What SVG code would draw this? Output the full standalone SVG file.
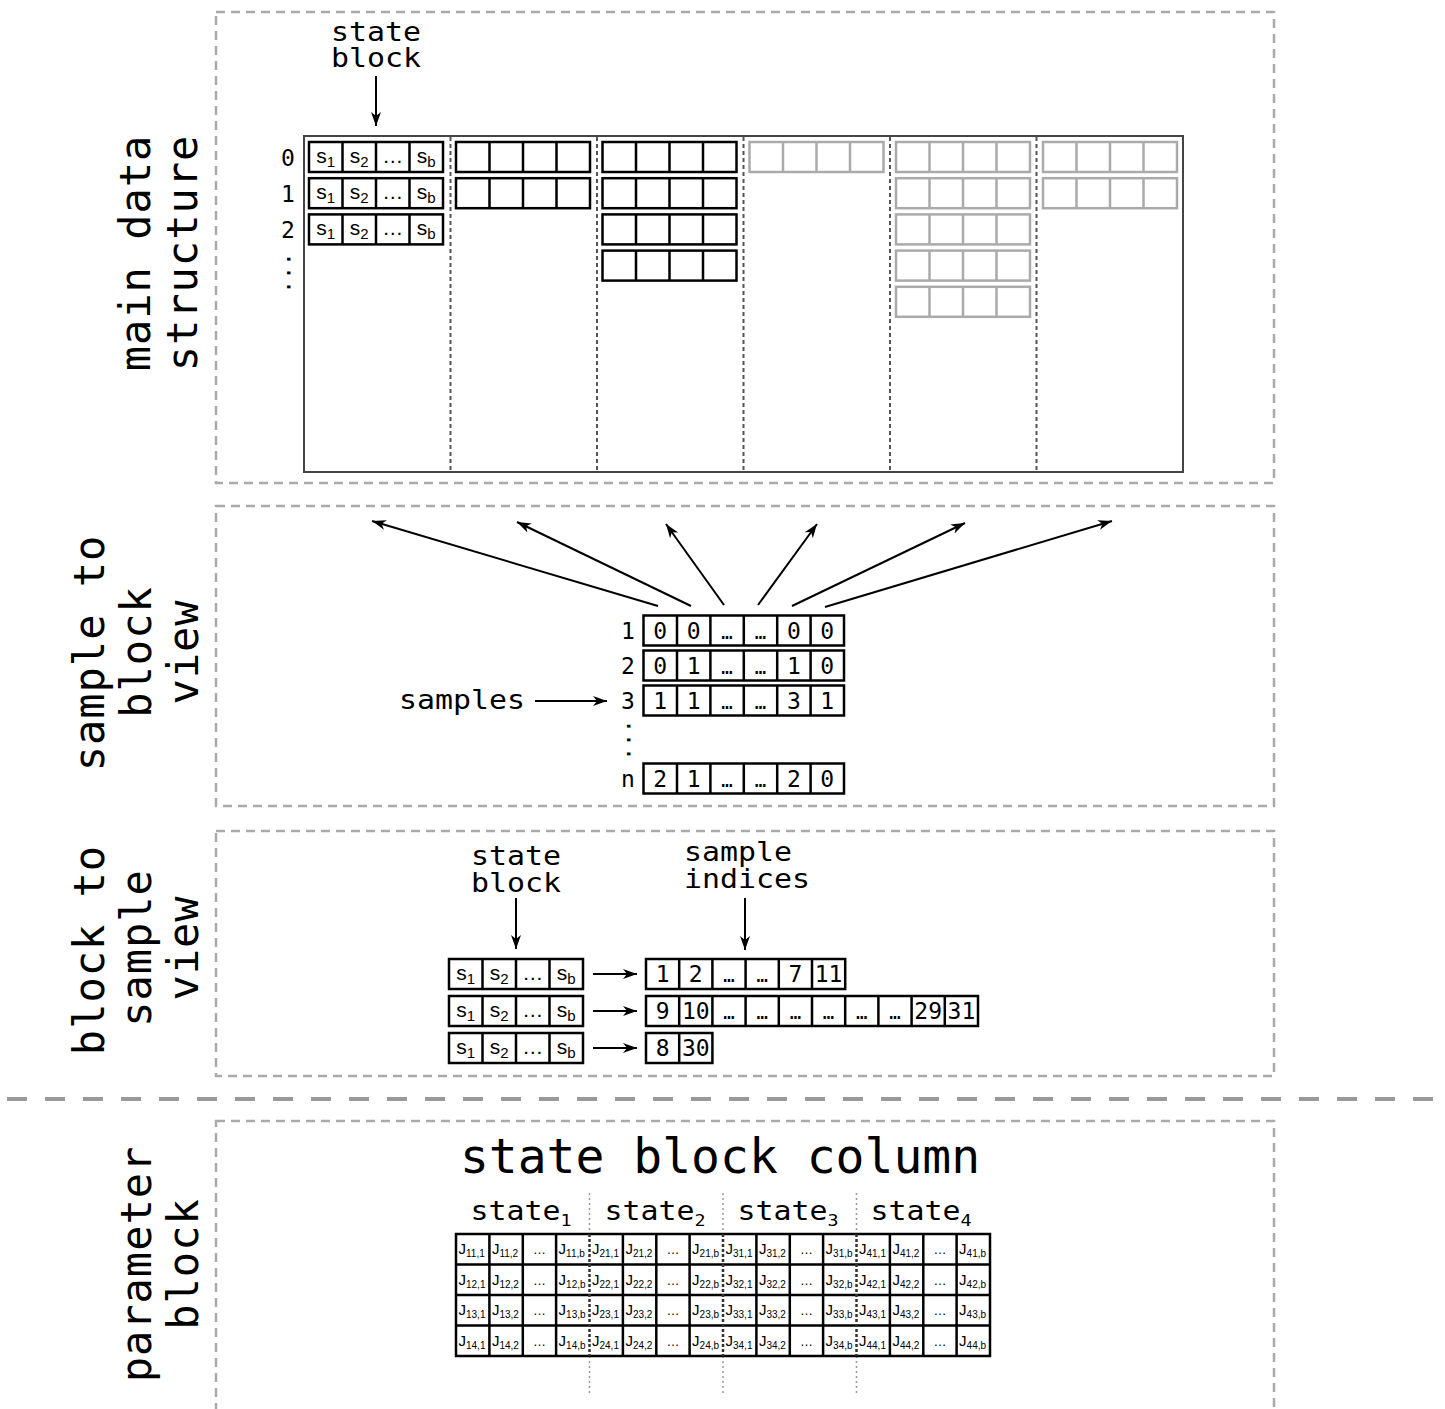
<svg xmlns="http://www.w3.org/2000/svg" xmlns:xlink="http://www.w3.org/1999/xlink" width="1445" height="1409" viewBox="0 0 1445 1409">
<defs>
<style>
.panel{fill:none;stroke:#aaa;stroke-width:2.5;stroke-dasharray:9 6}
.sep{stroke:#999;stroke-width:4;stroke-dasharray:20 18}
.frame{fill:none;stroke:#444;stroke-width:2}
.div{stroke:#555;stroke-width:2;stroke-dasharray:4 3}
.blk{fill:none;stroke:#000;stroke-width:2.5}
.gblk{fill:none;stroke:#aaa;stroke-width:2.5}
.mono{font-family:"DejaVu Sans Mono",monospace;fill:#000}
.lbl{font-size:26px;text-anchor:middle}
.lbs{font-size:26px}
.side{font-size:42px;text-anchor:middle;letter-spacing:1px}
.title{font-size:48px;text-anchor:middle}
.dig{font-size:23px;text-anchor:middle}
.ell{font-size:19px}
.s{font-family:"Liberation Sans",Arial,sans-serif;font-size:21px;text-anchor:middle;fill:#000}
.sub{font-size:15px}
.j{font-family:"Liberation Sans",Arial,sans-serif;font-size:15px;fill:#000}
.jsub{font-size:10px}
.jd{font-family:"Liberation Sans",Arial,sans-serif;font-size:13px;text-anchor:middle;fill:#000}
.arr{stroke:#000;stroke-width:2;fill:none;marker-end:url(#ah)}
.gdot{stroke:#999;stroke-width:1.5;stroke-dasharray:2 3}
.bdot{stroke:#333;stroke-width:2.5;stroke-dasharray:3 2}
</style>
<marker id="ah" markerWidth="16" markerHeight="12" refX="14" refY="6" orient="auto" markerUnits="userSpaceOnUse"><path d="M0,1 L14,6 L0,11 L4,6 Z" fill="#000"/></marker>
<g id="b4"><rect width="134" height="30"/><path d="M33.5,0V30M67,0V30M100.5,0V30"/></g>
</defs>
<rect width="1445" height="1409" fill="#fff"/>

<!-- panels -->
<g id="panels">
<rect class="panel" x="216" y="12" width="1058" height="471"/>
<rect class="panel" x="216" y="506" width="1058" height="300"/>
<rect class="panel" x="216" y="831" width="1058" height="245"/>
<rect class="panel" x="216" y="1121" width="1058" height="310"/>
<line class="sep" x1="7" y1="1099" x2="1445" y2="1099"/>
</g>

<!-- side labels -->
<g id="side-labels" class="mono side">
<text transform="translate(150,253) rotate(-90)">main data</text>
<text transform="translate(197,253) rotate(-90)">structure</text>
<text transform="translate(104,653) rotate(-90)">sample to</text>
<text transform="translate(151,652) rotate(-90)">block</text>
<text transform="translate(198,652) rotate(-90)">view</text>
<text transform="translate(104,950) rotate(-90)">block to</text>
<text transform="translate(151,948) rotate(-90)">sample</text>
<text transform="translate(198,948) rotate(-90)">view</text>
<text transform="translate(151,1264) rotate(-90)">parameter</text>
<text transform="translate(198,1264) rotate(-90)">block</text>
</g>

<!-- main data structure -->
<g id="main-structure">
<rect class="frame" x="304" y="136" width="879" height="336"/>
<path class="div" d="M450.5,137V471M597,137V471M743.5,137V471M890,137V471M1036.5,137V471"/>
<g class="blk">
<use xlink:href="#b4" x="309" y="142"/>
<use xlink:href="#b4" x="309" y="178.2"/>
<use xlink:href="#b4" x="309" y="214.4"/>
<use xlink:href="#b4" x="456" y="142"/>
<use xlink:href="#b4" x="456" y="178.2"/>
<use xlink:href="#b4" x="602.5" y="142"/>
<use xlink:href="#b4" x="602.5" y="178.2"/>
<use xlink:href="#b4" x="602.5" y="214.4"/>
<use xlink:href="#b4" x="602.5" y="250.6"/>
</g>
<g class="gblk">
<use xlink:href="#b4" x="749.5" y="142"/>
<use xlink:href="#b4" x="896" y="142"/>
<use xlink:href="#b4" x="896" y="178.2"/>
<use xlink:href="#b4" x="896" y="214.4"/>
<use xlink:href="#b4" x="896" y="250.6"/>
<use xlink:href="#b4" x="896" y="286.8"/>
<use xlink:href="#b4" x="1043" y="142"/>
<use xlink:href="#b4" x="1043" y="178.2"/>
</g>
<g class="s">
<text x="325.75" y="163">s<tspan class="sub" dy="4">1</tspan></text>
<text x="359.25" y="163">s<tspan class="sub" dy="4">2</tspan></text>
<text x="392.75" y="163">…</text>
<text x="426.25" y="163">s<tspan class="sub" dy="4">b</tspan></text>
<text x="325.75" y="199.2">s<tspan class="sub" dy="4">1</tspan></text>
<text x="359.25" y="199.2">s<tspan class="sub" dy="4">2</tspan></text>
<text x="392.75" y="199.2">…</text>
<text x="426.25" y="199.2">s<tspan class="sub" dy="4">b</tspan></text>
<text x="325.75" y="235.4">s<tspan class="sub" dy="4">1</tspan></text>
<text x="359.25" y="235.4">s<tspan class="sub" dy="4">2</tspan></text>
<text x="392.75" y="235.4">…</text>
<text x="426.25" y="235.4">s<tspan class="sub" dy="4">b</tspan></text>
</g>
<g class="mono dig">
<text x="288" y="166">0</text>
<text x="288" y="202">1</text>
<text x="288" y="238">2</text>
<text transform="translate(286.5,273) rotate(90)">...</text>
</g>
<g class="mono lbl">
<text transform="matrix(1.15 0 0 1 376 41)">state</text>
<text transform="matrix(1.15 0 0 1 376 67)">block</text>
</g>
</g>

<!-- sample to block view -->
<g id="sample-rows">
<g class="blk">
<rect x="643.5" y="615.5" width="200.5" height="30"/>
<path d="M677,615.5v30M710.4,615.5v30M743.8,615.5v30M777.2,615.5v30M810.6,615.5v30"/>
<rect x="643.5" y="650.5" width="200.5" height="30"/>
<path d="M677,650.5v30M710.4,650.5v30M743.8,650.5v30M777.2,650.5v30M810.6,650.5v30"/>
<rect x="643.5" y="685.5" width="200.5" height="30"/>
<path d="M677,685.5v30M710.4,685.5v30M743.8,685.5v30M777.2,685.5v30M810.6,685.5v30"/>
<rect x="643.5" y="763.5" width="200.5" height="30"/>
<path d="M677,763.5v30M710.4,763.5v30M743.8,763.5v30M777.2,763.5v30M810.6,763.5v30"/>
</g>
<g class="mono dig">
<text x="628" y="639">1</text>
<text x="628" y="674">2</text>
<text x="628" y="709">3</text>
<text x="628" y="787">n</text>
<text transform="translate(626.5,740) rotate(90)">...</text>
<text x="660.2" y="639">0</text><text x="693.7" y="639">0</text><text class="ell" x="727.1" y="639">…</text><text class="ell" x="760.5" y="639">…</text><text x="793.9" y="639">0</text><text x="827.3" y="639">0</text>
<text x="660.2" y="674">0</text><text x="693.7" y="674">1</text><text class="ell" x="727.1" y="674">…</text><text class="ell" x="760.5" y="674">…</text><text x="793.9" y="674">1</text><text x="827.3" y="674">0</text>
<text x="660.2" y="709">1</text><text x="693.7" y="709">1</text><text class="ell" x="727.1" y="709">…</text><text class="ell" x="760.5" y="709">…</text><text x="793.9" y="709">3</text><text x="827.3" y="709">1</text>
<text x="660.2" y="787">2</text><text x="693.7" y="787">1</text><text class="ell" x="727.1" y="787">…</text><text class="ell" x="760.5" y="787">…</text><text x="793.9" y="787">2</text><text x="827.3" y="787">0</text>
</g>
<text class="mono lbs" transform="matrix(1.15 0 0 1 399 709)">samples</text>
</g>

<!-- block to sample view -->
<g id="block-rows">
<g class="blk">
<use xlink:href="#b4" x="449" y="959"/>
<use xlink:href="#b4" x="449" y="996"/>
<use xlink:href="#b4" x="449" y="1033"/>
<rect x="646" y="959" width="199.2" height="30"/>
<path d="M679.2,959v30M712.4,959v30M745.6,959v30M778.8,959v30M812,959v30"/>
<rect x="646" y="996" width="332" height="30"/>
<path d="M679.2,996v30M712.4,996v30M745.6,996v30M778.8,996v30M812,996v30M845.2,996v30M878.4,996v30M911.6,996v30M944.8,996v30"/>
<rect x="646" y="1033" width="66.4" height="30"/>
<path d="M679.2,1033v30"/>
</g>
<g class="s">
<text x="465.75" y="980">s<tspan class="sub" dy="4">1</tspan></text>
<text x="499.25" y="980">s<tspan class="sub" dy="4">2</tspan></text>
<text x="532.75" y="980">…</text>
<text x="566.25" y="980">s<tspan class="sub" dy="4">b</tspan></text>
<text x="465.75" y="1017">s<tspan class="sub" dy="4">1</tspan></text>
<text x="499.25" y="1017">s<tspan class="sub" dy="4">2</tspan></text>
<text x="532.75" y="1017">…</text>
<text x="566.25" y="1017">s<tspan class="sub" dy="4">b</tspan></text>
<text x="465.75" y="1054">s<tspan class="sub" dy="4">1</tspan></text>
<text x="499.25" y="1054">s<tspan class="sub" dy="4">2</tspan></text>
<text x="532.75" y="1054">…</text>
<text x="566.25" y="1054">s<tspan class="sub" dy="4">b</tspan></text>
</g>
<g class="mono dig">
<text x="662.6" y="982">1</text><text x="695.8" y="982">2</text><text class="ell" x="729" y="982">…</text><text class="ell" x="762.2" y="982">…</text><text x="795.4" y="982">7</text><text x="828.6" y="982">11</text>
<text x="662.6" y="1019">9</text><text x="695.8" y="1019">10</text><text class="ell" x="729" y="1019">…</text><text class="ell" x="762.2" y="1019">…</text><text class="ell" x="795.4" y="1019">…</text><text class="ell" x="828.6" y="1019">…</text><text class="ell" x="861.8" y="1019">…</text><text class="ell" x="895" y="1019">…</text><text x="928.2" y="1019">29</text><text x="961.4" y="1019">31</text>
<text x="662.6" y="1056">8</text><text x="695.8" y="1056">30</text>
</g>
<g class="mono lbl">
<text transform="matrix(1.15 0 0 1 516 865)">state</text>
<text transform="matrix(1.15 0 0 1 516 892)">block</text>
</g>
<g class="mono lbs">
<text transform="matrix(1.15 0 0 1 684 861)">sample</text>
<text transform="matrix(1.15 0 0 1 684 888)">indices</text>
</g>
</g>

<!-- parameter block -->
<g id="param-block">
<text class="mono title" x="720" y="1173">state block column</text>
<g class="mono lbl">
<text transform="matrix(1.15 0 0 1 521 1220)">state<tspan font-size="16" dy="6">1</tspan></text>
<text transform="matrix(1.15 0 0 1 655 1220)">state<tspan font-size="16" dy="6">2</tspan></text>
<text transform="matrix(1.15 0 0 1 788 1220)">state<tspan font-size="16" dy="6">3</tspan></text>
<text transform="matrix(1.15 0 0 1 921 1220)">state<tspan font-size="16" dy="6">4</tspan></text>
</g>
<path class="gdot" d="M589.5,1193V1234M723,1193V1234M856.5,1193V1234M589.5,1356V1396M723,1356V1396M856.5,1356V1396"/>
<path class="blk" d="M456,1234H990V1356H456ZM456,1264.5H990M456,1295H990M456,1325.5H990M489.4,1234v122M522.8,1234v122M556.1,1234v122M622.9,1234v122M656.3,1234v122M689.6,1234v122M756.4,1234v122M789.8,1234v122M823.1,1234v122M889.9,1234v122M923.3,1234v122M956.6,1234v122"/>
<path class="bdot" d="M589.5,1234V1356M723,1234V1356M856.5,1234V1356"/>
<g class="j">
<text x="458.5" y="1254">J<tspan class="jsub" dy="3">11,1</tspan></text>
<text x="491.9" y="1254">J<tspan class="jsub" dy="3">11,2</tspan></text>
<text x="558.6" y="1254">J<tspan class="jsub" dy="3">11,b</tspan></text>
<text x="592" y="1254">J<tspan class="jsub" dy="3">21,1</tspan></text>
<text x="625.4" y="1254">J<tspan class="jsub" dy="3">21,2</tspan></text>
<text x="692.1" y="1254">J<tspan class="jsub" dy="3">21,b</tspan></text>
<text x="725.5" y="1254">J<tspan class="jsub" dy="3">31,1</tspan></text>
<text x="758.9" y="1254">J<tspan class="jsub" dy="3">31,2</tspan></text>
<text x="825.6" y="1254">J<tspan class="jsub" dy="3">31,b</tspan></text>
<text x="859" y="1254">J<tspan class="jsub" dy="3">41,1</tspan></text>
<text x="892.4" y="1254">J<tspan class="jsub" dy="3">41,2</tspan></text>
<text x="959.1" y="1254">J<tspan class="jsub" dy="3">41,b</tspan></text>

<text x="458.5" y="1284.5">J<tspan class="jsub" dy="3">12,1</tspan></text>
<text x="491.9" y="1284.5">J<tspan class="jsub" dy="3">12,2</tspan></text>
<text x="558.6" y="1284.5">J<tspan class="jsub" dy="3">12,b</tspan></text>
<text x="592" y="1284.5">J<tspan class="jsub" dy="3">22,1</tspan></text>
<text x="625.4" y="1284.5">J<tspan class="jsub" dy="3">22,2</tspan></text>
<text x="692.1" y="1284.5">J<tspan class="jsub" dy="3">22,b</tspan></text>
<text x="725.5" y="1284.5">J<tspan class="jsub" dy="3">32,1</tspan></text>
<text x="758.9" y="1284.5">J<tspan class="jsub" dy="3">32,2</tspan></text>
<text x="825.6" y="1284.5">J<tspan class="jsub" dy="3">32,b</tspan></text>
<text x="859" y="1284.5">J<tspan class="jsub" dy="3">42,1</tspan></text>
<text x="892.4" y="1284.5">J<tspan class="jsub" dy="3">42,2</tspan></text>
<text x="959.1" y="1284.5">J<tspan class="jsub" dy="3">42,b</tspan></text>

<text x="458.5" y="1315">J<tspan class="jsub" dy="3">13,1</tspan></text>
<text x="491.9" y="1315">J<tspan class="jsub" dy="3">13,2</tspan></text>
<text x="558.6" y="1315">J<tspan class="jsub" dy="3">13,b</tspan></text>
<text x="592" y="1315">J<tspan class="jsub" dy="3">23,1</tspan></text>
<text x="625.4" y="1315">J<tspan class="jsub" dy="3">23,2</tspan></text>
<text x="692.1" y="1315">J<tspan class="jsub" dy="3">23,b</tspan></text>
<text x="725.5" y="1315">J<tspan class="jsub" dy="3">33,1</tspan></text>
<text x="758.9" y="1315">J<tspan class="jsub" dy="3">33,2</tspan></text>
<text x="825.6" y="1315">J<tspan class="jsub" dy="3">33,b</tspan></text>
<text x="859" y="1315">J<tspan class="jsub" dy="3">43,1</tspan></text>
<text x="892.4" y="1315">J<tspan class="jsub" dy="3">43,2</tspan></text>
<text x="959.1" y="1315">J<tspan class="jsub" dy="3">43,b</tspan></text>

<text x="458.5" y="1345.5">J<tspan class="jsub" dy="3">14,1</tspan></text>
<text x="491.9" y="1345.5">J<tspan class="jsub" dy="3">14,2</tspan></text>
<text x="558.6" y="1345.5">J<tspan class="jsub" dy="3">14,b</tspan></text>
<text x="592" y="1345.5">J<tspan class="jsub" dy="3">24,1</tspan></text>
<text x="625.4" y="1345.5">J<tspan class="jsub" dy="3">24,2</tspan></text>
<text x="692.1" y="1345.5">J<tspan class="jsub" dy="3">24,b</tspan></text>
<text x="725.5" y="1345.5">J<tspan class="jsub" dy="3">34,1</tspan></text>
<text x="758.9" y="1345.5">J<tspan class="jsub" dy="3">34,2</tspan></text>
<text x="825.6" y="1345.5">J<tspan class="jsub" dy="3">34,b</tspan></text>
<text x="859" y="1345.5">J<tspan class="jsub" dy="3">44,1</tspan></text>
<text x="892.4" y="1345.5">J<tspan class="jsub" dy="3">44,2</tspan></text>
<text x="959.1" y="1345.5">J<tspan class="jsub" dy="3">44,b</tspan></text>
</g>
<g class="jd">
<text x="539.4" y="1254">…</text><text x="672.9" y="1254">…</text><text x="806.4" y="1254">…</text><text x="939.9" y="1254">…</text>
<text x="539.4" y="1284.5">…</text><text x="672.9" y="1284.5">…</text><text x="806.4" y="1284.5">…</text><text x="939.9" y="1284.5">…</text>
<text x="539.4" y="1315">…</text><text x="672.9" y="1315">…</text><text x="806.4" y="1315">…</text><text x="939.9" y="1315">…</text>
<text x="539.4" y="1345.5">…</text><text x="672.9" y="1345.5">…</text><text x="806.4" y="1345.5">…</text><text x="939.9" y="1345.5">…</text>
</g>
</g>

<!-- connectors -->
<g id="connectors" class="arr">
<line x1="376" y1="76" x2="376" y2="126"/>
<line x1="658" y1="606" x2="372" y2="521"/>
<line x1="691" y1="606" x2="517" y2="522"/>
<line x1="724" y1="605" x2="666" y2="524"/>
<line x1="758" y1="605" x2="817" y2="524"/>
<line x1="792" y1="606" x2="965" y2="523"/>
<line x1="825" y1="607" x2="1112" y2="521"/>
<line x1="535" y1="701" x2="607" y2="701"/>
<line x1="516" y1="898" x2="516" y2="949"/>
<line x1="745" y1="898" x2="745" y2="950"/>
<line x1="593" y1="974" x2="637" y2="974"/>
<line x1="593" y1="1011" x2="637" y2="1011"/>
<line x1="593" y1="1048" x2="637" y2="1048"/>
</g>
</svg>
